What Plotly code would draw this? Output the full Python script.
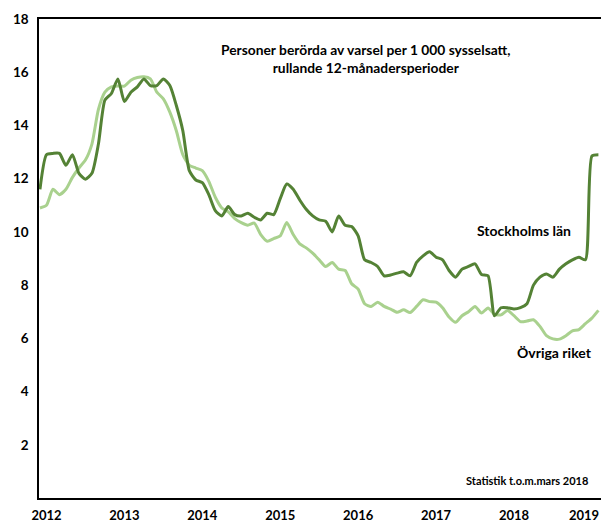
import plotly.graph_objects as go

# Monthly observations (index 0 .. 86)
stockholm = [11.6, 12.9, 12.95, 12.95, 12.5, 12.9, 12.2, 11.98, 12.2, 13.3,
             14.95, 15.2, 15.75, 14.9, 15.25, 15.45, 15.75, 15.5, 15.5, 15.75,
             15.5, 14.75, 13.8, 12.3, 11.95, 11.85, 11.4, 10.8, 10.6, 10.95,
             10.65, 10.6, 10.7, 10.55, 10.45, 10.7, 10.65, 11.25, 11.8, 11.6,
             11.2, 10.85, 10.6, 10.45, 10.4, 10.0, 10.6, 10.25, 10.2, 9.85,
             8.95, 8.85, 8.7, 8.35, 8.38, 8.45, 8.5, 8.35, 8.85, 9.1,
             9.25, 9.05, 8.95, 8.55, 8.3, 8.6, 8.7, 8.8, 8.4, 8.35,
             6.85, 7.15, 7.15, 7.1, 7.15, 7.3, 8.0, 8.3, 8.42, 8.3,
             8.6, 8.8, 8.95, 9.05, 8.95, 12.85, 12.9]

ovriga = [10.9, 11.0, 11.6, 11.4, 11.6, 12.05, 12.4, 12.7, 13.3, 14.6,
          15.25, 15.45, 15.48, 15.48, 15.7, 15.8, 15.83, 15.75, 15.25, 15.0,
          14.5, 13.8, 12.9, 12.5, 12.4, 12.3, 11.9, 11.3, 10.9, 10.75,
          10.5, 10.35, 10.25, 10.33, 9.9, 9.65, 9.75, 9.85, 10.35, 9.9,
          9.55, 9.4, 9.2, 8.95, 8.7, 8.85, 8.6, 8.55, 8.05, 7.85,
          7.3, 7.2, 7.36, 7.2, 7.1, 6.98, 7.07, 6.97, 7.2, 7.45,
          7.38, 7.36, 7.15, 6.8, 6.6, 6.85, 7.0, 7.2, 6.95, 7.14,
          6.9, 6.88, 7.05, 6.85, 6.63, 6.65, 6.7, 6.45, 6.1, 5.98,
          5.97, 6.1, 6.28, 6.33, 6.55, 6.76, 7.05]

year_labels = ["2012", "2013", "2014", "2015", "2016", "2017", "2018", "2019"]
year_positions = [1 + 12 * i for i in range(len(year_labels))]
y_ticks = [2, 4, 6, 8, 10, 12, 14, 16, 18]

x = list(range(len(stockholm)))

DARK = "#548235"
LIGHT = "#a9d18e"
FONT = "Lato"
TICKFONT = dict(family=FONT, size=13, color="#000000", weight="bold")

fig = go.Figure()
fig.add_trace(go.Scatter(x=x, y=ovriga, mode="lines", name="Övriga riket",
                         line=dict(color=LIGHT, width=3, shape="spline", smoothing=0.6)))
fig.add_trace(go.Scatter(x=x, y=stockholm, mode="lines", name="Stockholms län",
                         line=dict(color=DARK, width=3, shape="spline", smoothing=0.6)))

# page body adds an 8px offset, so the figure is 8px smaller on each axis
fig.update_layout(
    width=601, height=514,
    margin=dict(l=31, r=8, t=11, b=24, autoexpand=False),
    paper_bgcolor="white", plot_bgcolor="white",
    showlegend=False,
    font=dict(family=FONT, color="#000000"),
)
# last year label sits at the right edge; drawn as an annotation so it stays visible
fig.update_xaxes(range=[-0.15, 86.4], tickvals=year_positions[:-1], ticktext=year_labels[:-1],
                 showgrid=False, zeroline=False, showline=True, linecolor="#000000",
                 linewidth=1.5, mirror=True, ticks="", automargin=False,
                 ticklabelstandoff=5, tickfont=TICKFONT)
fig.update_yaxes(range=[0, 18], tickvals=y_ticks,
                 showgrid=False, zeroline=False, showline=True, linecolor="#000000",
                 linewidth=1.5, mirror=True, ticks="", automargin=False, ticklabelstandoff=6,
                 tickfont=dict(family=FONT, size=13.5, color="#000000", weight="bold"))

fig.add_annotation(text=year_labels[-1], x=year_positions[-1], xref="x", y=0, yref="paper",
                   xanchor="center", yanchor="top", xshift=-8, yshift=-7,
                   showarrow=False, font=TICKFONT)

fig.add_annotation(text="<b>Personer berörda av varsel per 1 000 sysselsatt,</b><br><b>rullande 12-månadersperioder</b>",
                   x=50.2, y=17.25, xanchor="center", yanchor="top",
                   showarrow=False, align="center", font=dict(family=FONT, size=13.8, color="#000000"))
fig.add_annotation(text="<b>Stockholms län</b>", x=74.5, y=10.05, xanchor="center", yanchor="middle",
                   showarrow=False, font=dict(family=FONT, size=14, color="#000000"))
fig.add_annotation(text="<b>Övriga riket</b>", x=79.2, y=5.45, xanchor="center", yanchor="middle",
                   showarrow=False, font=dict(family=FONT, size=14, color="#000000"))
fig.add_annotation(text="<b>Statistik t.o.m.mars 2018</b>", x=75.0, y=0.65, xanchor="center", yanchor="middle",
                   showarrow=False, font=dict(family=FONT, size=11, color="#000000"))

fig.write_html("out.html")
